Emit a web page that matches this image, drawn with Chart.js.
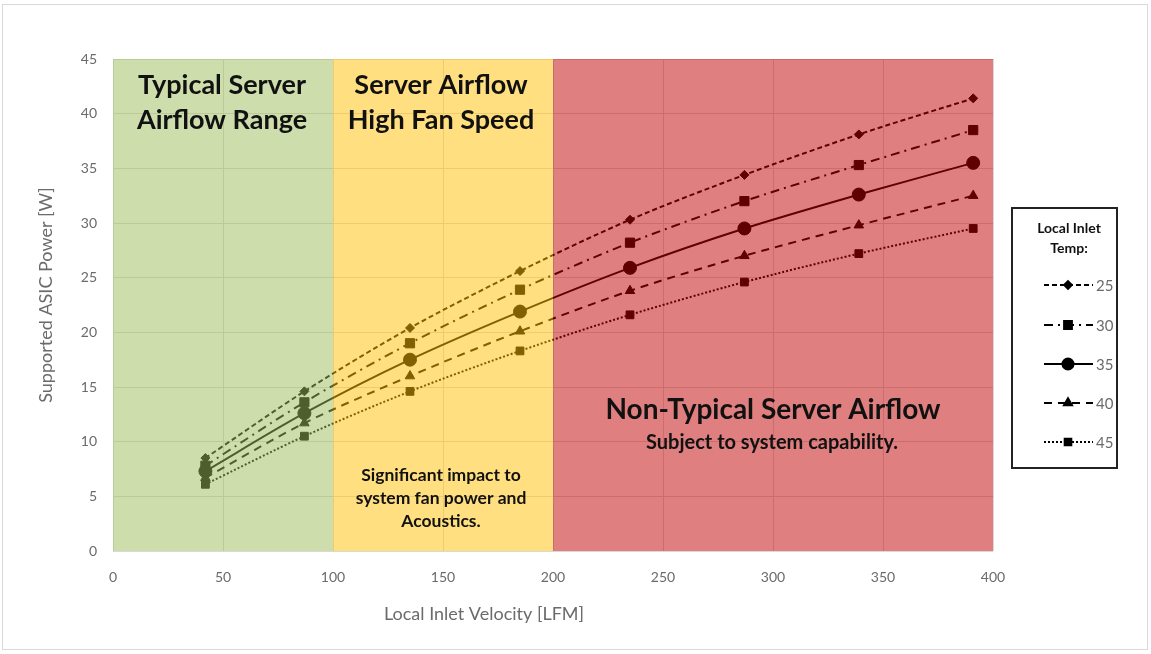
<!DOCTYPE html>
<html>
<head>
<meta charset="utf-8">
<script src="https://cdn.jsdelivr.net/npm/chart.js@4.4.1/dist/chart.umd.min.js"></script>
<style>
html,body{margin:0;padding:0;background:#fff;}
#wrap{width:1151px;height:654px;position:relative;}
</style>
</head>
<body>
<div id="wrap"><canvas id="c" width="1151" height="654"></canvas></div>
<script>
// ---- data ----
const velocity = [42, 87, 135, 185, 235, 287, 339, 391];
const temp25 = [8.5, 14.6, 20.4, 25.6, 30.3, 34.4, 38.1, 41.4];
const temp30 = [7.8, 13.6, 19.0, 23.9, 28.2, 32.0, 35.3, 38.5];
const temp35 = [7.3, 12.6, 17.5, 21.9, 25.9, 29.5, 32.6, 35.5];
const temp40 = [6.7, 11.7, 16.0, 20.1, 23.8, 27.0, 29.8, 32.5];
const temp45 = [6.1, 10.5, 14.6, 18.3, 21.6, 24.6, 27.2, 29.5];
const seriesLabels = ['25', '30', '35', '40', '45'];
const xTicks = [0, 50, 100, 150, 200, 250, 300, 350, 400];
const yTicks = [0, 5, 10, 15, 20, 25, 30, 35, 40, 45];
const regionBounds = [0, 100, 200, 400];
const regionTitles = [['Typical Server', 'Airflow Range'], ['Server Airflow', 'High Fan Speed'], ['Non-Typical Server Airflow']];
const regionNotes = [[], ['Significant impact to', 'system fan power and', 'Acoustics.'], ['Subject to system capability.']];
const xTitle = 'Local Inlet Velocity [LFM]';
const yTitle = 'Supported ASIC Power [W]';
const legendTitle = ['Local Inlet', 'Temp:'];

// ---- styles ----
const FONT = 'Lato, "Open Sans", sans-serif';
const styles = [
  {dash: [5, 3], pointStyle: 'rectRot', radius: 4.5},
  {dash: [9, 5, 2, 5], pointStyle: 'rect', radius: 6.5},
  {dash: [], pointStyle: 'circle', radius: 6.5},
  {dash: [8, 6], pointStyle: 'triangle', radius: 5.5},
  {dash: [2, 2], pointStyle: 'rect', radius: 5.5}
];
const regionColors = ['rgba(155,187,89,0.5)', 'rgba(255,192,0,0.5)', 'rgba(192,0,0,0.5)'];
const seriesValues = [temp25, temp30, temp35, temp40, temp45];

const datasets = seriesValues.map((vals, i) => ({
  label: seriesLabels[i],
  data: velocity.map((v, j) => ({x: v, y: vals[j]})),
  borderColor: '#000',
  backgroundColor: '#000',
  borderWidth: 2,
  borderDash: styles[i].dash,
  pointStyle: styles[i].pointStyle,
  pointRadius: styles[i].radius,
  pointBorderWidth: 1,
  pointBackgroundColor: '#000',
  pointBorderColor: '#000',
  tension: 0.3,
  fill: false
}));

const overlayPlugin = {
  id: 'overlay',
  beforeDraw(chart) {
    const ctx = chart.ctx;
    ctx.save();
    ctx.fillStyle = '#fff';
    ctx.fillRect(0, 0, chart.width, chart.height);
    ctx.strokeStyle = '#d9d9d9';
    ctx.lineWidth = 1;
    ctx.strokeRect(2.5, 4.5, 1145, 645);
    ctx.restore();
  },
  afterDatasetsDraw(chart) {
    const ctx = chart.ctx;
    const xs = chart.scales.x;
    const top = chart.chartArea.top, bottom = chart.chartArea.bottom;
    ctx.save();
    for (let i = 0; i < 3; i++) {
      const x0 = xs.getPixelForValue(regionBounds[i]);
      const x1 = xs.getPixelForValue(regionBounds[i + 1]);
      ctx.fillStyle = regionColors[i];
      ctx.fillRect(x0, top, x1 - x0, bottom - top);
    }
    ctx.fillStyle = '#111';
    ctx.textAlign = 'center';
    ctx.textBaseline = 'middle';
    const cx0 = (xs.getPixelForValue(0) + xs.getPixelForValue(100)) / 2;
    const cx1 = (xs.getPixelForValue(100) + xs.getPixelForValue(200)) / 2;
    const cx2 = xs.getPixelForValue(300) - 3;
    ctx.font = 'bold 27px ' + FONT;
    ctx.fillText(regionTitles[0][0], cx0 - 1, 85);
    ctx.fillText(regionTitles[0][1], cx0 - 1, 120);
    ctx.fillText(regionTitles[1][0], cx1 - 2, 85);
    ctx.fillText(regionTitles[1][1], cx1 - 2, 120);
    ctx.font = 'bold 28px ' + FONT;
    ctx.fillText(regionTitles[2][0], cx2 + 3, 410);
    ctx.font = 'bold 20px ' + FONT;
    ctx.fillText(regionNotes[2][0], cx2 + 2, 443);
    ctx.font = 'bold 17.5px ' + FONT;
    regionNotes[1].forEach((t, k) => ctx.fillText(t, cx1 - 2, 475 + k * 23));
    // axis titles
    ctx.fillStyle = '#6b6b6b';
    ctx.font = '18px ' + FONT;
    ctx.fillText(xTitle, 484, 614);
    ctx.save();
    ctx.translate(46, 295);
    ctx.rotate(-Math.PI / 2);
    ctx.fillText(yTitle, 0, 0);
    ctx.restore();
    // legend
    ctx.strokeStyle = '#222';
    ctx.lineWidth = 2;
    ctx.strokeRect(1012, 208, 105, 260);
    ctx.fillStyle = '#111';
    ctx.font = 'bold 14px ' + FONT;
    ctx.fillText(legendTitle[0], 1069, 228);
    ctx.fillText(legendTitle[1], 1069, 248);
    const ly = [285, 325, 364, 403, 442];
    for (let i = 0; i < 5; i++) {
      ctx.save();
      ctx.strokeStyle = '#000';
      ctx.lineWidth = 2;
      ctx.setLineDash(styles[i].dash);
      ctx.beginPath();
      ctx.moveTo(1044, ly[i]);
      ctx.lineTo(1093, ly[i]);
      ctx.stroke();
      ctx.setLineDash([]);
      ctx.fillStyle = '#000';
      Chart.helpers.drawPoint(ctx, {pointStyle: styles[i].pointStyle, radius: styles[i].radius * 0.85, rotation: 0, borderWidth: 1}, 1068, ly[i]);
      ctx.fill();
      ctx.restore();
      ctx.fillStyle = '#6b6b6b';
      ctx.font = '15px ' + FONT;
      ctx.textAlign = 'left';
      ctx.fillText(seriesLabels[i], 1096, ly[i] + 1);
      ctx.textAlign = 'center';
    }
    ctx.restore();
  }
};

new Chart(document.getElementById('c'), {
  type: 'line',
  data: {datasets},
  options: {
    responsive: false,
    animation: false,
    layout: {padding: {left: 0, top: 59, right: 158, bottom: 0}},
    plugins: {legend: {display: false}, tooltip: {enabled: false}},
    scales: {
      x: {
        type: 'linear',
        min: 0, max: 400,
        afterBuildTicks(s) { s.ticks = xTicks.map(v => ({value: v})); },
        afterFit(s) { s.height = 103; },
        grid: {color: '#d9d9d9', drawTicks: false},
        border: {display: false},
        ticks: {padding: 18, color: '#6b6b6b', font: {family: FONT, size: 14}}
      },
      y: {
        min: 0, max: 45,
        afterBuildTicks(s) { s.ticks = yTicks.map(v => ({value: v})); },
        afterFit(s) { s.width = 113; },
        grid: {color: '#d9d9d9', drawTicks: false},
        border: {display: false},
        ticks: {padding: 16, color: '#6b6b6b', font: {family: FONT, size: 14}}
      }
    }
  },
  plugins: [overlayPlugin]
});
</script>
</body>
</html>
